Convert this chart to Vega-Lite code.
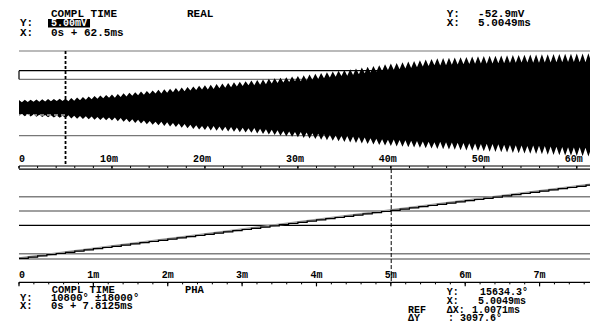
{
  "$schema": "https://vega.github.io/schema/vega-lite/v6.json",
  "background": "white",
  "padding": {"left": 14, "top": 0, "right": 0, "bottom": 0},
  "autosize": {"type": "pad"},
  "bounds": "flush",
  "spacing": 0,
  "config": {
    "view": {"stroke": null},
    "text": {"font": "Liberation Mono", "fontWeight": "bold", "fontSize": 11, "align": "left", "baseline": "middle", "color": "black"}
  },
  "vconcat": [
    {
      "width": 581,
      "height": 168,
      "layer": [
        {
          "data": {"values": [{"v": 452}, {"v": 225.6}, {"v": -225.6}]},
          "mark": {"type": "rule", "color": "#777777", "strokeWidth": 1.2},
          "encoding": {"y": {"field": "v", "type": "quantitative", "scale": {"domain": [-484, 860], "nice": false, "zero": false}, "axis": null}}
        },
        {
          "data": {"values": [{"v": 294.4}, {"v": -468}]},
          "mark": {"type": "rule", "color": "black", "strokeWidth": 1.2},
          "encoding": {"y": {"field": "v", "type": "quantitative", "scale": {"domain": [-484, 860], "nice": false, "zero": false}, "axis": null}}
        },
        {
          "data": {"values": [{}]},
          "mark": {"type": "rule", "color": "black", "strokeWidth": 1.2},
          "encoding": {
            "x": {"datum": 0, "type": "quantitative", "axis": null},
            "y": {"datum": 294.4, "type": "quantitative", "axis": null},
            "y2": {"datum": 225.6}
          }
        },
        {
          "data": {"values": [
            {"t":0,"hi":60,"lo":-68},{"t":0.3125,"hi":43,"lo":-51},{"t":0.625,"hi":62,"lo":-70},{"t":0.9375,"hi":44,"lo":-53},
            {"t":1.25,"hi":63,"lo":-72},{"t":1.5625,"hi":46,"lo":-55},{"t":1.875,"hi":65,"lo":-74},{"t":2.1875,"hi":47,"lo":-57},
            {"t":2.5,"hi":66,"lo":-76},{"t":2.8125,"hi":49,"lo":-59},{"t":3.125,"hi":68,"lo":-78},{"t":3.4375,"hi":50,"lo":-61},
            {"t":3.75,"hi":69,"lo":-80},{"t":4.0625,"hi":52,"lo":-63},{"t":4.375,"hi":71,"lo":-82},{"t":4.6875,"hi":53,"lo":-65},
            {"t":5,"hi":72,"lo":-84},{"t":5.3125,"hi":51,"lo":-62},{"t":5.625,"hi":76,"lo":-87},{"t":5.9375,"hi":55,"lo":-65},
            {"t":6.25,"hi":80,"lo":-89},{"t":6.5625,"hi":59,"lo":-67},{"t":6.875,"hi":84,"lo":-92},{"t":7.1875,"hi":63,"lo":-70},
            {"t":7.5,"hi":88,"lo":-94},{"t":7.8125,"hi":67,"lo":-72},{"t":8.125,"hi":92,"lo":-97},{"t":8.4375,"hi":71,"lo":-75},
            {"t":8.75,"hi":96,"lo":-99},{"t":9.0625,"hi":75,"lo":-77},{"t":9.375,"hi":100,"lo":-102},{"t":9.6875,"hi":79,"lo":-80},
            {"t":10,"hi":104,"lo":-104},{"t":10.3125,"hi":79,"lo":-79},{"t":10.625,"hi":109,"lo":-109},{"t":10.9375,"hi":84,"lo":-84},
            {"t":11.25,"hi":114,"lo":-114},{"t":11.5625,"hi":89,"lo":-89},{"t":11.875,"hi":118,"lo":-118},{"t":12.1875,"hi":94,"lo":-94},
            {"t":12.5,"hi":123,"lo":-123},{"t":12.8125,"hi":98,"lo":-98},{"t":13.125,"hi":128,"lo":-128},{"t":13.4375,"hi":103,"lo":-103},
            {"t":13.75,"hi":133,"lo":-133},{"t":14.0625,"hi":108,"lo":-108},{"t":14.375,"hi":137,"lo":-137},{"t":14.6875,"hi":113,"lo":-113},
            {"t":15,"hi":142,"lo":-142},{"t":15.3125,"hi":113,"lo":-113},{"t":15.625,"hi":147,"lo":-147},{"t":15.9375,"hi":118,"lo":-118},
            {"t":16.25,"hi":151,"lo":-152},{"t":16.5625,"hi":122,"lo":-123},{"t":16.875,"hi":156,"lo":-156},{"t":17.1875,"hi":127,"lo":-128},
            {"t":17.5,"hi":160,"lo":-161},{"t":17.8125,"hi":131,"lo":-132},{"t":18.125,"hi":165,"lo":-166},{"t":18.4375,"hi":136,"lo":-137},
            {"t":18.75,"hi":169,"lo":-171},{"t":19.0625,"hi":140,"lo":-142},{"t":19.375,"hi":174,"lo":-175},{"t":19.6875,"hi":145,"lo":-147},
            {"t":20,"hi":178,"lo":-180},{"t":20.3125,"hi":144,"lo":-145},{"t":20.625,"hi":183,"lo":-183},{"t":20.9375,"hi":149,"lo":-148},
            {"t":21.25,"hi":188,"lo":-186},{"t":21.5625,"hi":154,"lo":-151},{"t":21.875,"hi":192,"lo":-188},{"t":22.1875,"hi":159,"lo":-154},
            {"t":22.5,"hi":197,"lo":-191},{"t":22.8125,"hi":163,"lo":-156},{"t":23.125,"hi":202,"lo":-194},{"t":23.4375,"hi":168,"lo":-159},
            {"t":23.75,"hi":207,"lo":-197},{"t":24.0625,"hi":173,"lo":-162},{"t":24.375,"hi":211,"lo":-199},{"t":24.6875,"hi":178,"lo":-165},
            {"t":25,"hi":216,"lo":-202},{"t":25.3125,"hi":178,"lo":-164},{"t":25.625,"hi":221,"lo":-207},{"t":25.9375,"hi":183,"lo":-169},
            {"t":26.25,"hi":225,"lo":-211},{"t":26.5625,"hi":187,"lo":-173},{"t":26.875,"hi":230,"lo":-216},{"t":27.1875,"hi":192,"lo":-178},
            {"t":27.5,"hi":234,"lo":-220},{"t":27.8125,"hi":196,"lo":-182},{"t":28.125,"hi":239,"lo":-225},{"t":28.4375,"hi":201,"lo":-187},
            {"t":28.75,"hi":243,"lo":-229},{"t":29.0625,"hi":205,"lo":-191},{"t":29.375,"hi":248,"lo":-234},{"t":29.6875,"hi":210,"lo":-196},
            {"t":30,"hi":252,"lo":-238},{"t":30.3125,"hi":210,"lo":-195},{"t":30.625,"hi":258,"lo":-243},{"t":30.9375,"hi":216,"lo":-200},
            {"t":31.25,"hi":264,"lo":-247},{"t":31.5625,"hi":222,"lo":-205},{"t":31.875,"hi":270,"lo":-252},{"t":32.1875,"hi":228,"lo":-209},
            {"t":32.5,"hi":276,"lo":-257},{"t":32.8125,"hi":234,"lo":-214},{"t":33.125,"hi":282,"lo":-261},{"t":33.4375,"hi":240,"lo":-218},
            {"t":33.75,"hi":288,"lo":-266},{"t":34.0625,"hi":246,"lo":-223},{"t":34.375,"hi":294,"lo":-270},{"t":34.6875,"hi":252,"lo":-228},
            {"t":35,"hi":300,"lo":-275},{"t":35.3125,"hi":254,"lo":-228},{"t":35.625,"hi":307,"lo":-279},{"t":35.9375,"hi":261,"lo":-232},
            {"t":36.25,"hi":313,"lo":-283},{"t":36.5625,"hi":267,"lo":-236},{"t":36.875,"hi":320,"lo":-287},{"t":37.1875,"hi":274,"lo":-240},
            {"t":37.5,"hi":326,"lo":-292},{"t":37.8125,"hi":280,"lo":-245},{"t":38.125,"hi":333,"lo":-296},{"t":38.4375,"hi":287,"lo":-249},
            {"t":38.75,"hi":339,"lo":-300},{"t":39.0625,"hi":293,"lo":-253},{"t":39.375,"hi":346,"lo":-304},{"t":39.6875,"hi":300,"lo":-257},
            {"t":40,"hi":352,"lo":-308},{"t":40.3125,"hi":302,"lo":-256},{"t":40.625,"hi":357,"lo":-311},{"t":40.9375,"hi":307,"lo":-259},
            {"t":41.25,"hi":363,"lo":-314},{"t":41.5625,"hi":312,"lo":-262},{"t":41.875,"hi":368,"lo":-317},{"t":42.1875,"hi":317,"lo":-265},
            {"t":42.5,"hi":373,"lo":-320},{"t":42.8125,"hi":323,"lo":-268},{"t":43.125,"hi":378,"lo":-322},{"t":43.4375,"hi":328,"lo":-271},
            {"t":43.75,"hi":384,"lo":-325},{"t":44.0625,"hi":333,"lo":-274},{"t":44.375,"hi":389,"lo":-328},{"t":44.6875,"hi":338,"lo":-277},
            {"t":45,"hi":394,"lo":-331},{"t":45.3125,"hi":337,"lo":-274},{"t":45.625,"hi":396,"lo":-333},{"t":45.9375,"hi":339,"lo":-277},
            {"t":46.25,"hi":399,"lo":-336},{"t":46.5625,"hi":342,"lo":-279},{"t":46.875,"hi":401,"lo":-338},{"t":47.1875,"hi":344,"lo":-281},
            {"t":47.5,"hi":403,"lo":-341},{"t":47.8125,"hi":346,"lo":-284},{"t":48.125,"hi":405,"lo":-343},{"t":48.4375,"hi":348,"lo":-286},
            {"t":48.75,"hi":408,"lo":-345},{"t":49.0625,"hi":351,"lo":-288},{"t":49.375,"hi":410,"lo":-348},{"t":49.6875,"hi":353,"lo":-291},
            {"t":50,"hi":412,"lo":-350},{"t":50.3125,"hi":351,"lo":-289},{"t":50.625,"hi":414,"lo":-353},{"t":50.9375,"hi":352,"lo":-292},
            {"t":51.25,"hi":415,"lo":-355},{"t":51.5625,"hi":354,"lo":-294},{"t":51.875,"hi":417,"lo":-358},{"t":52.1875,"hi":355,"lo":-297},
            {"t":52.5,"hi":418,"lo":-360},{"t":52.8125,"hi":357,"lo":-299},{"t":53.125,"hi":420,"lo":-363},{"t":53.4375,"hi":358,"lo":-302},
            {"t":53.75,"hi":421,"lo":-365},{"t":54.0625,"hi":360,"lo":-304},{"t":54.375,"hi":423,"lo":-368},{"t":54.6875,"hi":361,"lo":-307},
            {"t":55,"hi":424,"lo":-370},{"t":55.3125,"hi":358,"lo":-304},{"t":55.625,"hi":425,"lo":-372},{"t":55.9375,"hi":359,"lo":-306},
            {"t":56.25,"hi":426,"lo":-374},{"t":56.5625,"hi":360,"lo":-308},{"t":56.875,"hi":427,"lo":-377},{"t":57.1875,"hi":361,"lo":-311},
            {"t":57.5,"hi":428,"lo":-379},{"t":57.8125,"hi":362,"lo":-313},{"t":58.125,"hi":429,"lo":-381},{"t":58.4375,"hi":363,"lo":-315},
            {"t":58.75,"hi":430,"lo":-383},{"t":59.0625,"hi":364,"lo":-317},{"t":59.375,"hi":431,"lo":-385},{"t":59.6875,"hi":365,"lo":-319},
            {"t":60,"hi":432,"lo":-387},{"t":60.3125,"hi":362,"lo":-318},{"t":60.625,"hi":433,"lo":-390},{"t":60.9375,"hi":363,"lo":-321},
            {"t":61.25,"hi":434,"lo":-392},{"t":61.5625,"hi":364,"lo":-323},{"t":61.875,"hi":435,"lo":-394},{"t":62.1875,"hi":365,"lo":-325},
            {"t":62.5,"hi":436,"lo":-396}
          ]},
          "mark": {"type": "area", "color": "black", "interpolate": "linear"},
          "encoding": {
            "x": {"field": "t", "type": "quantitative", "scale": {"domain": [0, 62.5], "nice": false, "zero": false}, "axis": null},
            "y": {"field": "hi", "type": "quantitative", "scale": {"domain": [-484, 860], "nice": false, "zero": false}, "axis": null},
            "y2": {"field": "lo"}
          }
        },
        {
          "data": {"values": [{}]},
          "mark": {"type": "rule", "color": "white", "strokeDash": [4, 3], "strokeWidth": 1},
          "encoding": {
            "x": {"datum": 0, "type": "quantitative", "axis": null},
            "x2": {"datum": 5},
            "y": {"datum": -60, "type": "quantitative", "axis": null}
          }
        },
        {
          "data": {"values": [{}]},
          "mark": {"type": "rule", "color": "black", "strokeDash": [3, 2], "strokeWidth": 1.8},
          "encoding": {
            "x": {"datum": 5.0049, "type": "quantitative", "axis": null},
            "y": {"datum": 452, "type": "quantitative", "axis": null},
            "y2": {"datum": -468}
          }
        },
        {
          "data": {"values": [{"t":0},{"t":2},{"t":4},{"t":6},{"t":8},{"t":10},{"t":12},{"t":14},{"t":16},{"t":18},{"t":20},{"t":22},{"t":24},{"t":26},{"t":28},{"t":30},{"t":32},{"t":34},{"t":36},{"t":38},{"t":40},{"t":42},{"t":44},{"t":46},{"t":48},{"t":50},{"t":52},{"t":54},{"t":56},{"t":58},{"t":60},{"t":62}]},
          "mark": {"type": "rule", "color": "black", "strokeWidth": 1},
          "encoding": {
            "x": {"field": "t", "type": "quantitative", "axis": null},
            "y": {"datum": -468, "type": "quantitative", "axis": null},
            "y2": {"datum": -484}
          }
        },
        {
          "data": {"values": [{"t":0},{"t":10},{"t":20},{"t":30},{"t":40},{"t":50},{"t":60}]},
          "mark": {"type": "rule", "color": "black", "strokeWidth": 1.2},
          "encoding": {
            "x": {"field": "t", "type": "quantitative", "axis": null},
            "y": {"datum": -468, "type": "quantitative", "axis": null},
            "y2": {"datum": -490}
          }
        },
        {
          "data": {"values": [{"t":10,"s":"10m"},{"t":20,"s":"20m"},{"t":30,"s":"30m"},{"t":40,"s":"40m"},{"t":50,"s":"50m"},{"t":60,"s":"60m"}]},
          "mark": {"type": "text", "align": "center", "dx": -3, "fontSize": 10},
          "encoding": {
            "x": {"field": "t", "type": "quantitative", "axis": null},
            "y": {"datum": -412, "type": "quantitative", "axis": null},
            "text": {"field": "s"}
          }
        },
        {
          "data": {"values": [{}]},
          "mark": {"type": "text", "text": "0", "fontSize": 10},
          "encoding": {"x": {"datum": 0, "type": "quantitative", "axis": null}, "y": {"datum": -412, "type": "quantitative", "axis": null}}
        },
        {
          "data": {"values": [{}]},
          "mark": {"type": "text", "text": "COMPL TIME"},
          "encoding": {"x": {"datum": 3.44, "type": "quantitative", "axis": null}, "y": {"datum": 748, "type": "quantitative", "axis": null}}
        },
        {
          "data": {"values": [{}]},
          "mark": {"type": "text", "text": "REAL"},
          "encoding": {"x": {"datum": 18.07, "type": "quantitative", "axis": null}, "y": {"datum": 748, "type": "quantitative", "axis": null}}
        },
        {
          "data": {"values": [{}]},
          "mark": {"type": "text", "text": "Y:"},
          "encoding": {"x": {"datum": 0.11, "type": "quantitative", "axis": null}, "y": {"datum": 674, "type": "quantitative", "axis": null}}
        },
        {
          "data": {"values": [{}]},
          "mark": {"type": "rect", "color": "black"},
          "encoding": {
            "x": {"datum": 3.12, "type": "quantitative", "axis": null},
            "x2": {"datum": 7.64},
            "y": {"datum": 708, "type": "quantitative", "axis": null},
            "y2": {"datum": 640}
          }
        },
        {
          "data": {"values": [{}]},
          "mark": {"type": "text", "text": "5.00mV", "color": "white", "fontSize": 10},
          "encoding": {"x": {"datum": 3.44, "type": "quantitative", "axis": null}, "y": {"datum": 674, "type": "quantitative", "axis": null}}
        },
        {
          "data": {"values": [{}]},
          "mark": {"type": "text", "text": "X:"},
          "encoding": {"x": {"datum": 0.11, "type": "quantitative", "axis": null}, "y": {"datum": 594, "type": "quantitative", "axis": null}}
        },
        {
          "data": {"values": [{}]},
          "mark": {"type": "text", "text": "0s + 62.5ms"},
          "encoding": {"x": {"datum": 3.44, "type": "quantitative", "axis": null}, "y": {"datum": 594, "type": "quantitative", "axis": null}}
        },
        {
          "data": {"values": [{}]},
          "mark": {"type": "text", "text": "Y:"},
          "encoding": {"x": {"datum": 46.01, "type": "quantitative", "axis": null}, "y": {"datum": 748, "type": "quantitative", "axis": null}}
        },
        {
          "data": {"values": [{}]},
          "mark": {"type": "text", "text": "-52.9mV"},
          "encoding": {"x": {"datum": 49.38, "type": "quantitative", "axis": null}, "y": {"datum": 748, "type": "quantitative", "axis": null}}
        },
        {
          "data": {"values": [{}]},
          "mark": {"type": "text", "text": "X:"},
          "encoding": {"x": {"datum": 46.01, "type": "quantitative", "axis": null}, "y": {"datum": 674, "type": "quantitative", "axis": null}}
        },
        {
          "data": {"values": [{}]},
          "mark": {"type": "text", "text": "5.0049ms"},
          "encoding": {"x": {"datum": 49.38, "type": "quantitative", "axis": null}, "y": {"datum": 674, "type": "quantitative", "axis": null}}
        }
      ]
    },
    {
      "width": 581,
      "height": 163,
      "layer": [
        {
          "data": {"values": [{"v": 19950}, {"v": 15400}, {"v": 1700}, {"v": 0}]},
          "mark": {"type": "rule", "color": "#808080", "strokeWidth": 1.5},
          "encoding": {"y": {"field": "v", "type": "quantitative", "scale": {"domain": [-23024, 29136], "nice": false, "zero": false}, "axis": null}}
        },
        {
          "data": {"values": [{"v": 28800}, {"v": 10800}, {"v": -7456}]},
          "mark": {"type": "rule", "color": "black", "strokeWidth": 1.2},
          "encoding": {"y": {"field": "v", "type": "quantitative", "scale": {"domain": [-23024, 29136], "nice": false, "zero": false}, "axis": null}}
        },
        {
          "data": {"values": [{"t": 0, "d": 240}, {"t": 7.8125, "d": 24240}]},
          "mark": {"type": "line", "color": "#9a9a9a", "strokeWidth": 2.2},
          "encoding": {
            "x": {"field": "t", "type": "quantitative", "scale": {"domain": [0, 7.8125], "nice": false, "zero": false}, "axis": null},
            "y": {"field": "d", "type": "quantitative", "axis": null}
          }
        },
        {
          "data": {"values": [
            {"t":0,"d":240},{"t":0.125,"d":624},{"t":0.25,"d":1008},{"t":0.375,"d":1392},{"t":0.5,"d":1776},{"t":0.625,"d":2160},{"t":0.75,"d":2544},{"t":0.875,"d":2928},
            {"t":1,"d":3312},{"t":1.125,"d":3696},{"t":1.25,"d":4080},{"t":1.375,"d":4464},{"t":1.5,"d":4848},{"t":1.625,"d":5232},{"t":1.75,"d":5616},{"t":1.875,"d":6000},
            {"t":2,"d":6384},{"t":2.125,"d":6768},{"t":2.25,"d":7152},{"t":2.375,"d":7536},{"t":2.5,"d":7920},{"t":2.625,"d":8304},{"t":2.75,"d":8688},{"t":2.875,"d":9072},
            {"t":3,"d":9456},{"t":3.125,"d":9840},{"t":3.25,"d":10224},{"t":3.375,"d":10608},{"t":3.5,"d":10992},{"t":3.625,"d":11376},{"t":3.75,"d":11760},{"t":3.875,"d":12144},
            {"t":4,"d":12528},{"t":4.125,"d":12912},{"t":4.25,"d":13296},{"t":4.375,"d":13680},{"t":4.5,"d":14064},{"t":4.625,"d":14448},{"t":4.75,"d":14832},{"t":4.875,"d":15216},
            {"t":5,"d":15600},{"t":5.125,"d":15984},{"t":5.25,"d":16368},{"t":5.375,"d":16752},{"t":5.5,"d":17136},{"t":5.625,"d":17520},{"t":5.75,"d":17904},{"t":5.875,"d":18288},
            {"t":6,"d":18672},{"t":6.125,"d":19056},{"t":6.25,"d":19440},{"t":6.375,"d":19824},{"t":6.5,"d":20208},{"t":6.625,"d":20592},{"t":6.75,"d":20976},{"t":6.875,"d":21360},
            {"t":7,"d":21744},{"t":7.125,"d":22128},{"t":7.25,"d":22512},{"t":7.375,"d":22896},{"t":7.5,"d":23280},{"t":7.625,"d":23664},{"t":7.75,"d":24048},{"t":7.8125,"d":24240}
          ]},
          "mark": {"type": "line", "color": "black", "strokeWidth": 1.2, "interpolate": "step-after"},
          "encoding": {
            "x": {"field": "t", "type": "quantitative", "scale": {"domain": [0, 7.8125], "nice": false, "zero": false}, "axis": null},
            "y": {"field": "d", "type": "quantitative", "axis": null}
          }
        },
        {
          "data": {"values": [{}]},
          "mark": {"type": "rule", "color": "black", "strokeDash": [4, 2], "strokeWidth": 1},
          "encoding": {
            "x": {"datum": 5.0049, "type": "quantitative", "axis": null},
            "y": {"datum": 28800, "type": "quantitative", "axis": null},
            "y2": {"datum": -7456}
          }
        },
        {
          "data": {"values": [{"t":0},{"t":0.2},{"t":0.4},{"t":0.6},{"t":0.8},{"t":1},{"t":1.2},{"t":1.4},{"t":1.6},{"t":1.8},{"t":2},{"t":2.2},{"t":2.4},{"t":2.6},{"t":2.8},{"t":3},{"t":3.2},{"t":3.4},{"t":3.6},{"t":3.8},{"t":4},{"t":4.2},{"t":4.4},{"t":4.6},{"t":4.8},{"t":5},{"t":5.2},{"t":5.4},{"t":5.6},{"t":5.8},{"t":6},{"t":6.2},{"t":6.4},{"t":6.6},{"t":6.8},{"t":7},{"t":7.2},{"t":7.4},{"t":7.6},{"t":7.8}]},
          "mark": {"type": "rule", "color": "black", "strokeWidth": 1},
          "encoding": {
            "x": {"field": "t", "type": "quantitative", "axis": null},
            "y": {"datum": -7456, "type": "quantitative", "axis": null},
            "y2": {"datum": -8100}
          }
        },
        {
          "data": {"values": [{"t":0},{"t":1},{"t":2},{"t":3},{"t":4},{"t":5},{"t":6},{"t":7}]},
          "mark": {"type": "rule", "color": "black", "strokeWidth": 1.2},
          "encoding": {
            "x": {"field": "t", "type": "quantitative", "axis": null},
            "y": {"datum": -7456, "type": "quantitative", "axis": null},
            "y2": {"datum": -8740}
          }
        },
        {
          "data": {"values": [{"t":1,"s":"1m"},{"t":2,"s":"2m"},{"t":3,"s":"3m"},{"t":4,"s":"4m"},{"t":5,"s":"5m"},{"t":6,"s":"6m"},{"t":7,"s":"7m"}]},
          "mark": {"type": "text", "align": "center", "fontSize": 10},
          "encoding": {
            "x": {"field": "t", "type": "quantitative", "axis": null},
            "y": {"datum": -5104, "type": "quantitative", "axis": null},
            "text": {"field": "s"}
          }
        },
        {
          "data": {"values": [{}]},
          "mark": {"type": "text", "text": "0", "fontSize": 10},
          "encoding": {"x": {"datum": 0, "type": "quantitative", "axis": null}, "y": {"datum": -5104, "type": "quantitative", "axis": null}}
        },
        {
          "data": {"values": [{}]},
          "mark": {"type": "text", "text": "COMPL TIME", "fontSize": 10.5},
          "encoding": {"x": {"datum": 0.44, "type": "quantitative", "axis": null}, "y": {"datum": -9904, "type": "quantitative", "axis": null}}
        },
        {
          "data": {"values": [{}]},
          "mark": {"type": "text", "text": "PHA", "fontSize": 10.5},
          "encoding": {"x": {"datum": 2.232, "type": "quantitative", "axis": null}, "y": {"datum": -9904, "type": "quantitative", "axis": null}}
        },
        {
          "data": {"values": [{}]},
          "mark": {"type": "text", "text": "Y:", "fontSize": 10.5},
          "encoding": {"x": {"datum": 0.013, "type": "quantitative", "axis": null}, "y": {"datum": -12560, "type": "quantitative", "axis": null}}
        },
        {
          "data": {"values": [{}]},
          "mark": {"type": "text", "text": "10800° ±18000°", "fontSize": 10.5},
          "encoding": {"x": {"datum": 0.43, "type": "quantitative", "axis": null}, "y": {"datum": -12560, "type": "quantitative", "axis": null}}
        },
        {
          "data": {"values": [{}]},
          "mark": {"type": "text", "text": "X:", "fontSize": 10.5},
          "encoding": {"x": {"datum": 0.013, "type": "quantitative", "axis": null}, "y": {"datum": -15024, "type": "quantitative", "axis": null}}
        },
        {
          "data": {"values": [{}]},
          "mark": {"type": "text", "text": "0s + 7.8125ms", "fontSize": 10.5},
          "encoding": {"x": {"datum": 0.43, "type": "quantitative", "axis": null}, "y": {"datum": -15024, "type": "quantitative", "axis": null}}
        },
        {
          "data": {"values": [{}]},
          "mark": {"type": "text", "text": "Y:", "fontSize": 10},
          "encoding": {"x": {"datum": 5.751, "type": "quantitative", "axis": null}, "y": {"datum": -10700, "type": "quantitative", "axis": null}}
        },
        {
          "data": {"values": [{}]},
          "mark": {"type": "text", "text": "15634.3°", "fontSize": 10},
          "encoding": {"x": {"datum": 6.199, "type": "quantitative", "axis": null}, "y": {"datum": -10700, "type": "quantitative", "axis": null}}
        },
        {
          "data": {"values": [{}]},
          "mark": {"type": "text", "text": "X:", "fontSize": 10},
          "encoding": {"x": {"datum": 5.751, "type": "quantitative", "axis": null}, "y": {"datum": -13500, "type": "quantitative", "axis": null}}
        },
        {
          "data": {"values": [{}]},
          "mark": {"type": "text", "text": "5.0049ms", "fontSize": 10},
          "encoding": {"x": {"datum": 6.172, "type": "quantitative", "axis": null}, "y": {"datum": -13500, "type": "quantitative", "axis": null}}
        },
        {
          "data": {"values": [{}]},
          "mark": {"type": "text", "text": "REF", "fontSize": 10},
          "encoding": {"x": {"datum": 5.231, "type": "quantitative", "axis": null}, "y": {"datum": -16250, "type": "quantitative", "axis": null}}
        },
        {
          "data": {"values": [{}]},
          "mark": {"type": "text", "text": "ΔX:", "fontSize": 10},
          "encoding": {"x": {"datum": 5.751, "type": "quantitative", "axis": null}, "y": {"datum": -16250, "type": "quantitative", "axis": null}}
        },
        {
          "data": {"values": [{}]},
          "mark": {"type": "text", "text": "1.0071ms", "fontSize": 10},
          "encoding": {"x": {"datum": 6.091, "type": "quantitative", "axis": null}, "y": {"datum": -16250, "type": "quantitative", "axis": null}}
        },
        {
          "data": {"values": [{}]},
          "mark": {"type": "text", "text": "ΔY", "fontSize": 10},
          "encoding": {"x": {"datum": 5.231, "type": "quantitative", "axis": null}, "y": {"datum": -19000, "type": "quantitative", "axis": null}}
        },
        {
          "data": {"values": [{}]},
          "mark": {"type": "text", "text": ": 3097.6°", "fontSize": 10},
          "encoding": {"x": {"datum": 5.768, "type": "quantitative", "axis": null}, "y": {"datum": -19000, "type": "quantitative", "axis": null}}
        }
      ]
    }
  ]
}
